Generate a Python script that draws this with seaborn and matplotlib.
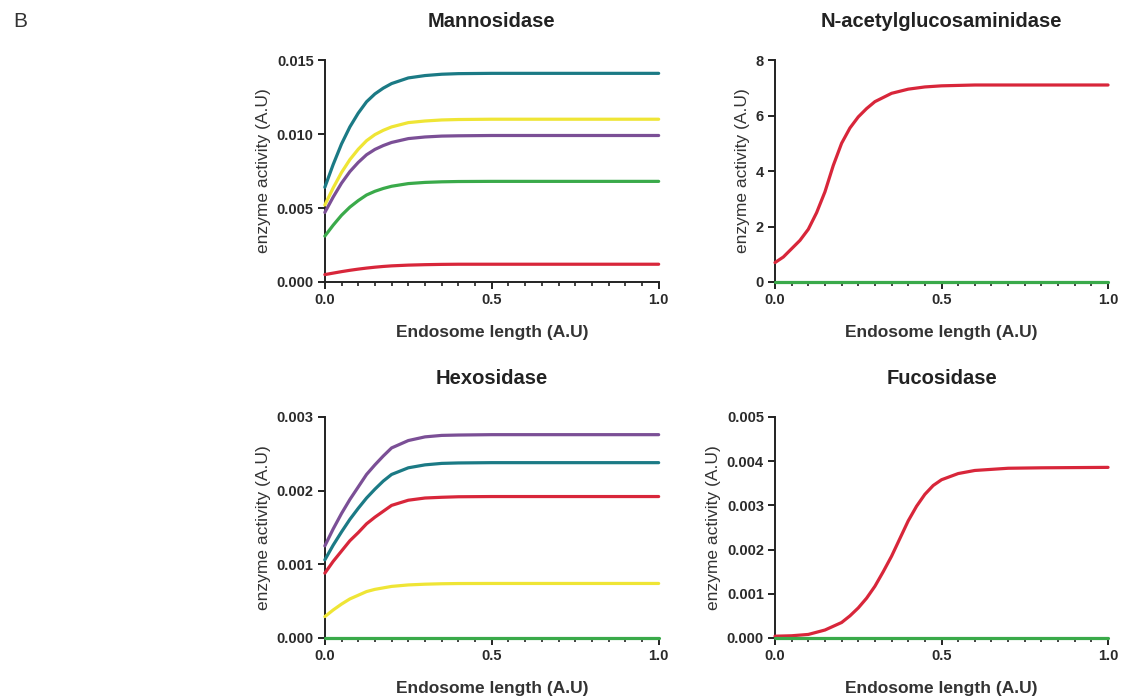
import matplotlib
matplotlib.use("Agg")
import matplotlib.pyplot as plt
import seaborn as sns
import pandas as pd
from matplotlib.ticker import MultipleLocator

sns.set_style("ticks")
plt.rcParams['font.family'] = ['Liberation Sans', 'DejaVu Sans']

TEAL = "#1b7a85"
YELLOW = "#efe535"
PURPLE = "#7b4f96"
GREEN = "#3aaa4a"
RED = "#d8263a"

# Mannosidase / Hexosidase sampling positions
x_sat = [0, .025, .05, .075, .1, .125, .15, .175, .2, .25, .3, .35, .4, .5, .7, 1.0]

man_teal = [0.0064, 0.00794, 0.00933, 0.01048, 0.01141, 0.01218, 0.01271, 0.01310,
            0.01341, 0.01379, 0.01395, 0.01404, 0.01408, 0.0141, 0.0141, 0.0141]
man_yellow = [0.0052, 0.00636, 0.00740, 0.00827, 0.00897, 0.00955, 0.00996, 0.01025,
              0.01048, 0.01077, 0.01088, 0.01095, 0.01098, 0.0110, 0.0110, 0.0110]
man_purple = [0.0047, 0.00574, 0.00668, 0.00746, 0.00808, 0.00860, 0.00896, 0.00922,
              0.00943, 0.00969, 0.00980, 0.00986, 0.00988, 0.0099, 0.0099, 0.0099]
man_green = [0.0031, 0.00384, 0.00451, 0.00506, 0.00550, 0.00588, 0.00613, 0.00632,
             0.00647, 0.00665, 0.00673, 0.00677, 0.00679, 0.0068, 0.0068, 0.0068]
man_red = [0.0005, 0.0006, 0.0007, 0.00079, 0.00087, 0.00094, 0.0010, 0.00105,
           0.00109, 0.00114, 0.00117, 0.00119, 0.0012, 0.0012, 0.0012, 0.0012]

hex_purple = [0.00125, 0.00148, 0.00169, 0.00188, 0.00205, 0.00222, 0.00235, 0.00247,
              0.00258, 0.00268, 0.00273, 0.00275, 0.002755, 0.00276, 0.00276, 0.00276]
hex_teal = [0.00106, 0.00126, 0.00144, 0.00161, 0.00176, 0.00190, 0.00202, 0.00213,
            0.00222, 0.00231, 0.00235, 0.00237, 0.002376, 0.00238, 0.00238, 0.00238]
hex_red = [0.00088, 0.00104, 0.00118, 0.00132, 0.00143, 0.00155, 0.00164, 0.00172,
           0.00180, 0.00187, 0.00190, 0.00191, 0.001917, 0.00192, 0.00192, 0.00192]
hex_yellow = [0.00029, 0.00038, 0.00046, 0.00053, 0.00058, 0.00063, 0.00066, 0.00068,
              0.00070, 0.00072, 0.00073, 0.000736, 0.000739, 0.00074, 0.00074, 0.00074]
hex_green = [0] * len(x_sat)

# N-acetylglucosaminidase
x_nag = [0, .025, .05, .075, .1, .125, .15, .175, .2, .225, .25, .275, .3, .35, .4, .45, .5, .6, .8, 1.0]
nag_red = [0.7, 0.9, 1.2, 1.5, 1.9, 2.5, 3.25, 4.2, 5.0, 5.55, 5.95, 6.25, 6.5, 6.8, 6.95,
           7.03, 7.07, 7.1, 7.1, 7.1]
nag_green = [0] * len(x_nag)

# Fucosidase
x_fuc = [0, .05, .1, .15, .2, .225, .25, .275, .3, .325, .35, .375, .4, .425, .45, .475,
         .5, .55, .6, .7, .8, 1.0]
fuc_red = [0.00004, 0.00005, 0.00008, 0.00018, 0.00035, 0.00050, 0.00068, 0.00090,
           0.00117, 0.00150, 0.00185, 0.00225, 0.00265, 0.00298, 0.00325, 0.00345,
           0.00358, 0.00372, 0.00379, 0.00384, 0.00385, 0.00386]
fuc_green = [0] * len(x_fuc)

panels = [
    ("Mannosidase", [0.289, 0.596, 0.297, 0.318], 0.015, 0.005, "%.3f",
     x_sat, [(man_teal, TEAL), (man_yellow, YELLOW), (man_purple, PURPLE),
             (man_green, GREEN), (man_red, RED)]),
    ("N-acetylglucosaminidase", [0.6895, 0.596, 0.2963, 0.318], 8, 2, "%d",
     x_nag, [(nag_red, RED), (nag_green, GREEN)]),
    ("Hexosidase", [0.289, 0.086, 0.297, 0.3166], 0.003, 0.001, "%.3f",
     x_sat, [(hex_purple, PURPLE), (hex_teal, TEAL), (hex_red, RED),
             (hex_yellow, YELLOW), (hex_green, GREEN)]),
    ("Fucosidase", [0.6895, 0.086, 0.2963, 0.3166], 0.005, 0.001, "%.3f",
     x_fuc, [(fuc_red, RED), (fuc_green, GREEN)]),
]

fig = plt.figure(figsize=(11.24, 6.98), dpi=100)

for title, rect, ymax, ystep, fmt, xs, series in panels:
    ax = fig.add_axes(rect)
    for ys, col in series:
        df = pd.DataFrame({"x": xs, "y": ys})
        sns.lineplot(data=df, x="x", y="y", color=col, linewidth=2.3, ax=ax,
                     clip_on=False, zorder=3)
    ax.set_xlim(0, 1)
    ax.set_ylim(0, ymax)
    ax.xaxis.set_major_locator(MultipleLocator(0.5))
    ax.xaxis.set_minor_locator(MultipleLocator(0.05))
    ax.yaxis.set_major_locator(MultipleLocator(ystep))
    ax.yaxis.set_major_formatter(matplotlib.ticker.FormatStrFormatter(fmt))
    ax.xaxis.set_major_formatter(matplotlib.ticker.FormatStrFormatter("%.1f"))
    sns.despine(ax=ax)
    for s in ["left", "bottom"]:
        ax.spines[s].set_linewidth(1.4)
        ax.spines[s].set_color("#222222")
    ax.tick_params(axis="both", which="major", length=5, width=1.4, color="#222222",
                   labelsize=10.5, pad=3)
    ax.tick_params(axis="x", which="minor", length=3, width=1.2, color="#222222")
    for lab in ax.get_xticklabels() + ax.get_yticklabels():
        lab.set_fontweight("bold")
        lab.set_color("#2a2a2a")
    ax.set_title(title, fontsize=14.5, fontweight="bold", pad=24, color="#222222")
    ax.set_xlabel("Endosome length (A.U)", fontsize=12.5, fontweight="bold",
                  color="#333333", labelpad=13)
    ax.set_ylabel("enzyme activity (A.U)", fontsize=12.5, color="#333333", labelpad=4)

fig.text(0.012, 0.962, "B", fontsize=15, color="#333333")

fig.savefig("out.png", dpi=100, facecolor="white")
